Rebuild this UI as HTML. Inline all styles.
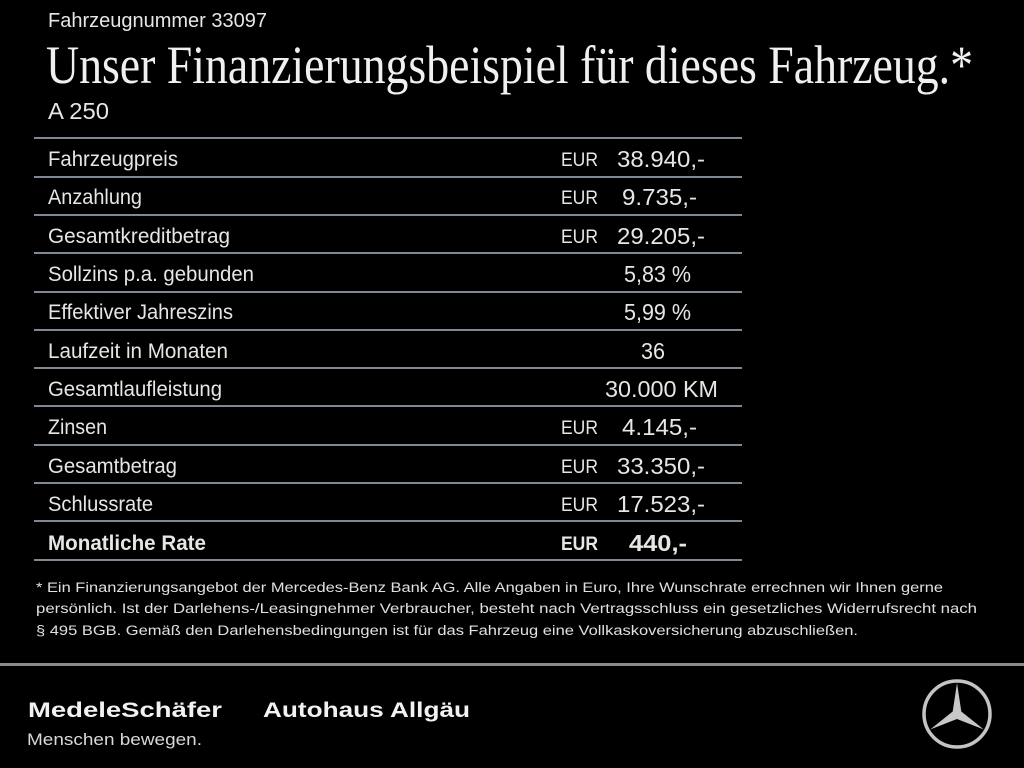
<!DOCTYPE html>
<html><head><meta charset="utf-8"><style>
html,body{margin:0;padding:0;background:#000;}
svg{display:block;}
</style></head><body>
<svg width="1024" height="768" viewBox="0 0 1024 768" xmlns="http://www.w3.org/2000/svg">
<rect width="1024" height="768" fill="#000"/>
<g font-family="Liberation Sans, sans-serif" fill="#e6e6e6">
<text x="48" y="27" font-size="20" textLength="219" lengthAdjust="spacingAndGlyphs">Fahrzeugnummer 33097</text>
<text x="46" y="83" font-family="Liberation Serif, serif" font-size="54" fill="#f0f0f0" textLength="927" lengthAdjust="spacingAndGlyphs">Unser Finanzierungsbeispiel für dieses Fahrzeug.*</text>
<text x="48" y="119" font-size="23" textLength="61" lengthAdjust="spacingAndGlyphs">A 250</text>
</g>
<g stroke="#7f8894" stroke-width="2">
<line x1="34" y1="138" x2="742" y2="138"/>
<line x1="34" y1="177" x2="742" y2="177"/>
<line x1="34" y1="215" x2="742" y2="215"/>
<line x1="34" y1="253" x2="742" y2="253"/>
<line x1="34" y1="292" x2="742" y2="292"/>
<line x1="34" y1="330" x2="742" y2="330"/>
<line x1="34" y1="368" x2="742" y2="368"/>
<line x1="34" y1="406" x2="742" y2="406"/>
<line x1="34" y1="445" x2="742" y2="445"/>
<line x1="34" y1="483" x2="742" y2="483"/>
<line x1="34" y1="521" x2="742" y2="521"/>
<line x1="34" y1="560" x2="742" y2="560"/>
</g>
<g font-family="Liberation Sans, sans-serif" font-size="21" fill="#e6e6e6" lengthAdjust="spacingAndGlyphs">
<text x="48" y="166" textLength="130" lengthAdjust="spacingAndGlyphs">Fahrzeugpreis</text>
<text x="48" y="204" textLength="94" lengthAdjust="spacingAndGlyphs">Anzahlung</text>
<text x="48" y="243" textLength="182" lengthAdjust="spacingAndGlyphs">Gesamtkreditbetrag</text>
<text x="48" y="281" textLength="206" lengthAdjust="spacingAndGlyphs">Sollzins p.a. gebunden</text>
<text x="48" y="319" textLength="185" lengthAdjust="spacingAndGlyphs">Effektiver Jahreszins</text>
<text x="48" y="358" textLength="180" lengthAdjust="spacingAndGlyphs">Laufzeit in Monaten</text>
<text x="48" y="396" textLength="174" lengthAdjust="spacingAndGlyphs">Gesamtlaufleistung</text>
<text x="48" y="434" textLength="59" lengthAdjust="spacingAndGlyphs">Zinsen</text>
<text x="48" y="473" textLength="129" lengthAdjust="spacingAndGlyphs">Gesamtbetrag</text>
<text x="48" y="511" textLength="105" lengthAdjust="spacingAndGlyphs">Schlussrate</text>
<text x="48" y="550" font-weight="bold" textLength="158" lengthAdjust="spacingAndGlyphs">Monatliche Rate</text>

<text x="561" y="166" font-size="19" textLength="37" lengthAdjust="spacingAndGlyphs">EUR</text>
<text x="561" y="204" font-size="19" textLength="37" lengthAdjust="spacingAndGlyphs">EUR</text>
<text x="561" y="243" font-size="19" textLength="37" lengthAdjust="spacingAndGlyphs">EUR</text>
<text x="561" y="434" font-size="19" textLength="37" lengthAdjust="spacingAndGlyphs">EUR</text>
<text x="561" y="473" font-size="19" textLength="37" lengthAdjust="spacingAndGlyphs">EUR</text>
<text x="561" y="511" font-size="19" textLength="37" lengthAdjust="spacingAndGlyphs">EUR</text>
<text x="561" y="550" font-size="19" font-weight="bold" textLength="37" lengthAdjust="spacingAndGlyphs">EUR</text>

<text x="617" y="167" font-size="23" textLength="88" lengthAdjust="spacingAndGlyphs">38.940,-</text>
<text x="622" y="205" font-size="23" textLength="75" lengthAdjust="spacingAndGlyphs">9.735,-</text>
<text x="617" y="244" font-size="23" textLength="88" lengthAdjust="spacingAndGlyphs">29.205,-</text>
<text x="624" y="282" font-size="23" textLength="67" lengthAdjust="spacingAndGlyphs">5,83 %</text>
<text x="624" y="320" font-size="23" textLength="67" lengthAdjust="spacingAndGlyphs">5,99 %</text>
<text x="641" y="359" font-size="23" textLength="24" lengthAdjust="spacingAndGlyphs">36</text>
<text x="605" y="397" font-size="23" textLength="113" lengthAdjust="spacingAndGlyphs">30.000 KM</text>
<text x="622" y="435" font-size="23" textLength="75" lengthAdjust="spacingAndGlyphs">4.145,-</text>
<text x="617" y="474" font-size="23" textLength="88" lengthAdjust="spacingAndGlyphs">33.350,-</text>
<text x="617" y="512" font-size="23" textLength="88" lengthAdjust="spacingAndGlyphs">17.523,-</text>
<text x="629" y="551" font-size="23" font-weight="bold" textLength="58" lengthAdjust="spacingAndGlyphs">440,-</text>
</g>
<g font-family="Liberation Sans, sans-serif" font-size="13.5" fill="#e0e0e0">
<text x="36" y="592" textLength="907" lengthAdjust="spacingAndGlyphs">* Ein Finanzierungsangebot der Mercedes-Benz Bank AG. Alle Angaben in Euro, Ihre Wunschrate errechnen wir Ihnen gerne</text>
<text x="36" y="613" textLength="941" lengthAdjust="spacingAndGlyphs">persönlich. Ist der Darlehens-/Leasingnehmer Verbraucher, besteht nach Vertragsschluss ein gesetzliches Widerrufsrecht nach</text>
<text x="36" y="635" textLength="822" lengthAdjust="spacingAndGlyphs">§ 495 BGB. Gemäß den Darlehensbedingungen ist für das Fahrzeug eine Vollkaskoversicherung abzuschließen.</text>
</g>
<rect x="0" y="663" width="1024" height="3" fill="#8a8a8a"/>
<g font-family="Liberation Sans, sans-serif" fill="#f2f2f2">
<text x="28" y="717" font-size="21" font-weight="bold" textLength="194" lengthAdjust="spacingAndGlyphs">MedeleSchäfer</text>
<text x="263" y="717" font-size="21" font-weight="bold" textLength="207" lengthAdjust="spacingAndGlyphs">Autohaus Allgäu</text>
<text x="27" y="745" font-size="17" fill="#d8d8d8" textLength="175" lengthAdjust="spacingAndGlyphs">Menschen bewegen.</text>
</g>
<circle cx="957" cy="714" r="33" fill="none" stroke="#c4c4c4" stroke-width="3.5"/>
<polygon points="957,683 961.3,711.5 983.8,729.5 957,719 930.2,729.5 952.7,711.5" fill="#c8c8c8"/>
</svg>
</body></html>
